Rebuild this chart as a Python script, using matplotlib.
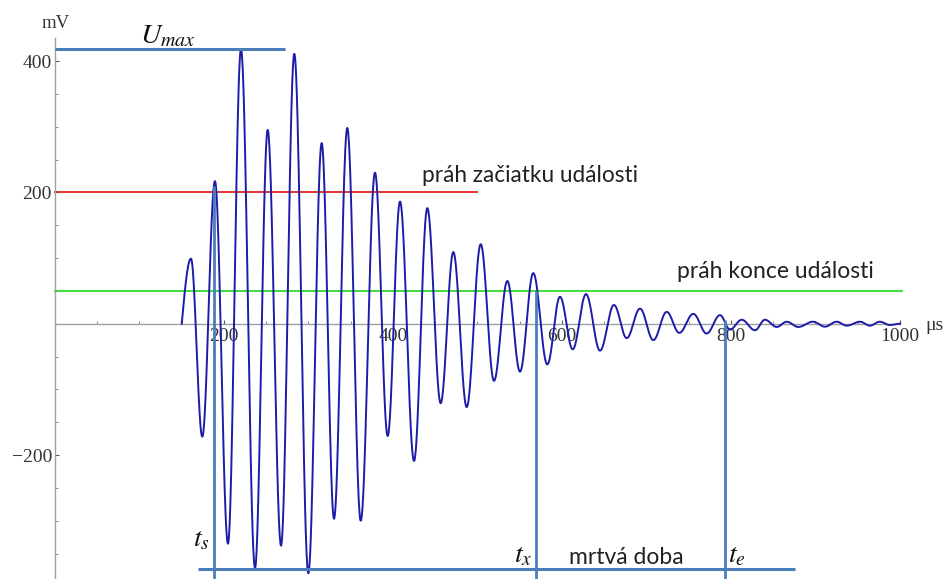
import numpy as np
import matplotlib
matplotlib.use("Agg")
import matplotlib.pyplot as plt
from matplotlib.ticker import FixedLocator

# ---- data (time in µs, voltage in mV) ----
# extrema of the burst signal (start, alternating peaks/troughs, end)
t_ext = [150.0, 160.9, 174.3, 189.3, 204.7, 220.1, 236.7, 251.7, 267.5, 283.2,
         299.8, 315.6, 330.2, 345.9, 361.8, 378.7, 393.7, 408.3, 424.9, 440.6,
         456.4, 471.4, 487.2, 503.8, 519.5, 535.3, 550.3, 566.0, 582.6, 597.6,
         612.7, 628.4, 645.0, 661.5, 676.6, 692.3, 708.1, 723.9, 738.8, 755.4,
         771.2, 787.0, 798.8, 812.7, 828.4, 840.2, 854.1, 865.9, 879.6, 897.0,
         911.2, 925.0, 937.0, 952.7, 964.5, 976.0, 988.0, 1000.0]
v_ext = [0, 99, -172, 217, -335, 418, -372, 295, -338, 411,
         -380, 275, -297, 298, -300, 230, -171, 186, -209, 176,
         -121, 109, -127, 121, -87, 65, -73, 77, -62, 41,
         -39, 45, -41, 28.5, -22, 23, -25, 18, -14, 15,
         -15, 13, -9, 6, -10, 6, -5, 3, -5, 3,
         -4.6, 3, -3, 3, -3, 3, -2, 0]

u_max = 419          # mV
u_max_end = 272      # µs
start_thr = 200      # mV
start_thr_end = 500  # µs
end_thr = 50         # mV
end_thr_end = 1002   # µs
t_s, t_x, t_e = 188, 569, 793          # µs
v_ts_top, v_tx_top, v_te_top = 210, 50, 5   # mV
dead_line_v = -373.5                    # mV
dead_line_t = (169, 876)                # µs

x_major = [200, 400, 600, 800, 1000]
x_labels = ["200", "400", "600", "800", "1000"]
y_major = [-200, 200, 400]
y_labels = ["\u2212200", "200", "400"]

# ---- build the smooth curve through the extrema ----
ts, vs = [], []
for i in range(len(t_ext) - 1):
    a, b = t_ext[i], t_ext[i + 1]
    ya, yb = v_ext[i], v_ext[i + 1]
    u = np.linspace(0, 1, 40)
    if i == 0:
        seg = yb * np.sin(np.pi / 2 * u)
    else:
        seg = (ya + yb) / 2 + (ya - yb) / 2 * np.cos(np.pi * u)
    ts.extend(a + (b - a) * u)
    vs.extend(seg)

plt.rcParams['mathtext.fontset'] = 'stix'

fig = plt.figure(figsize=(9.43, 5.79), dpi=100)
ax = fig.add_axes([0, 0, 1, 1])
ax.set_xlim(-65.09, 1050.9)
ax.set_ylim(-388.8, 492.9)
ax.patch.set_alpha(0)

for s in ['top', 'right']:
    ax.spines[s].set_visible(False)
ax.spines['left'].set_position(('data', 0))
ax.spines['bottom'].set_position(('data', 0))
ax.spines['left'].set_bounds(-388.8, 435)
ax.spines['bottom'].set_bounds(0, 1000)
for s in ['left', 'bottom']:
    ax.spines[s].set_color('#a0a0a0')
    ax.spines[s].set_linewidth(1.0)

ax.xaxis.set_major_locator(FixedLocator(x_major))
ax.set_xticklabels(x_labels)
ax.xaxis.set_minor_locator(FixedLocator([v for v in range(50, 1001, 50) if v not in x_major]))
ax.yaxis.set_major_locator(FixedLocator(y_major))
ax.set_yticklabels(y_labels)
ax.yaxis.set_minor_locator(FixedLocator([v for v in range(-350, 401, 50) if v not in y_major and v != 0]))

ax.tick_params(axis='both', which='major', direction='in', length=3, width=0.8,
               color='#555555', labelcolor='#333333', labelsize=14)
ax.tick_params(axis='both', which='minor', direction='in', length=2, width=0.6,
               color='#777777')
ax.tick_params(axis='x', which='major', pad=3.0)
ax.tick_params(axis='y', which='major', pad=2.2)
for lab in ax.get_xticklabels() + ax.get_yticklabels():
    lab.set_fontfamily('Liberation Serif')

# threshold lines
ax.plot([0, start_thr_end], [start_thr, start_thr], color='#e32222', lw=1.3, zorder=2)
ax.plot([0, end_thr_end], [end_thr, end_thr], color='#44dd44', lw=1.5, zorder=2)

# signal
ax.plot(ts, vs, color='#1c1ca8', lw=1.4, zorder=3)

# annotation lines
ann_c = '#4a7ebb'
ax.plot([0, u_max_end], [u_max, u_max], color=ann_c, lw=2.2, zorder=4, solid_capstyle='butt')
ax.plot([t_s, t_s], [v_ts_top, -388.8], color=ann_c, lw=2.0, zorder=4, solid_capstyle='butt')
ax.plot([t_x, t_x], [v_tx_top, -388.8], color=ann_c, lw=2.0, zorder=4, solid_capstyle='butt')
ax.plot([t_e, t_e], [v_te_top, -388.8], color=ann_c, lw=2.0, zorder=4, solid_capstyle='butt')
ax.plot(list(dead_line_t), [dead_line_v, dead_line_v], color=ann_c, lw=2.2, zorder=4,
        solid_capstyle='butt')

# texts
ax.text(100.6, 427.4, r'$U_{max}$', fontsize=20.5, ha='left', va='baseline', color='#111111')
ax.text(433.9, 216.2, 'práh začiatku události', family='Lato', fontsize=16.3,
        ha='left', va='baseline', color='#222222')
ax.text(735.7, 69.1, 'práh konce události', family='Lato', fontsize=16.5,
        ha='left', va='baseline', color='#222222')
ax.text(608.3, -366.4, 'mrtvá doba', family='Lato', fontsize=16.5,
        ha='left', va='baseline', color='#222222')
ax.text(163.3, -339.6, r'$t_s$', fontsize=20, ha='left', va='baseline', color='#111111')
ax.text(543.4, -364, r'$t_x$', fontsize=20, ha='left', va='baseline', color='#111111')
ax.text(796.4, -364, r'$t_e$', fontsize=20, ha='left', va='baseline', color='#111111')
ax.text(1.2, 456.4, 'mV', family='Liberation Serif', fontsize=13.5, ha='center',
        va='center', color='#333333')
ax.text(1029.6, -3, 'μs', family='Liberation Serif', fontsize=14, ha='left',
        va='center', color='#333333')

fig.savefig('out.png', dpi=100)
